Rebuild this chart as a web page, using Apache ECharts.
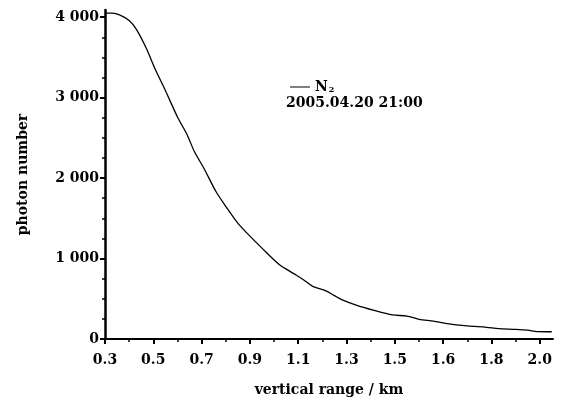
<!DOCTYPE html>
<html>
<head>
<meta charset="utf-8">
<script src="https://cdn.jsdelivr.net/npm/echarts@6/dist/echarts.min.js"></script>
<style>
  html, body { margin: 0; padding: 0; background: #fff; }
  #chart { width: 564px; height: 404px; }
</style>
</head>
<body>
<div id="chart"></div>
<script>
// 数据
const rangeKm = [0.30, 0.33, 0.36, 0.40, 0.43, 0.47, 0.51, 0.55, 0.60, 0.64, 0.67, 0.71, 0.76, 0.80,
  0.85, 0.89, 0.95, 1.02, 1.08, 1.12, 1.16, 1.21, 1.25, 1.28, 1.34, 1.41, 1.49, 1.55, 1.60,
  1.66, 1.71, 1.80, 1.88, 1.93, 2.00, 2.05, 2.09, 2.15]
const photonN2 = [4050, 4050, 4030, 3960, 3850, 3620, 3340, 3090, 2760, 2540, 2330, 2120, 1830, 1650,
  1440, 1310, 1130, 930, 816, 740, 655, 605, 540, 490, 422, 360, 300, 285, 245,
  222, 195, 163, 145, 128, 120, 110, 92, 90]
// 刻度（原图标注照抄）
const xTickKm = [0.3, 0.5, 0.7, 0.9, 1.1, 1.3, 1.5, 1.7, 1.9, 2.1]
const xTickLabels = ['0.3', '0.5', '0.7', '0.9', '1.1', '1.3', '1.5', '1.6', '1.8', '2.0']
const yTickValues = [0, 1000, 2000, 3000, 4000]
const yTickLabels = ['0', '1 000', '2 000', '3 000', '4 000']

const font = 'DejaVu Serif'
const chart = echarts.init(document.getElementById('chart'))

const option = {
  animation: false,
  backgroundColor: '#fff',
  title: {
    text: '2005.04.20 21:00',
    left: 286,
    top: 96,
    padding: 0,
    textStyle: { fontFamily: font, fontWeight: 'bold', fontSize: 14, color: '#000' }
  },
  legend: {
    left: 290,
    top: 80,
    padding: 0,
    itemWidth: 20,
    itemHeight: 1,
    icon: 'rect',
    formatter: function(name) {
      return '{n|N}{s|2}'
    },
    textStyle: {
      color: '#000',
      rich: {
        n: { fontFamily: font, fontWeight: 'bold', fontSize: 14, color: '#000' },
        s: { fontFamily: font, fontWeight: 'bold', fontSize: 8, color: '#000', padding: [6, 0, 0, 1] }
      }
    }
  },
  grid: { left: 105, right: 11, top: 10, bottom: 65 },
  xAxis: {
    type: 'value',
    min: 0.3,
    max: 2.155,
    interval: 0.2,
    name: 'vertical range / km',
    nameLocation: 'middle',
    nameGap: 44,
    nameTextStyle: { fontFamily: font, fontWeight: 'bold', fontSize: 14, color: '#000' },
    splitLine: { show: false },
    axisLine: { lineStyle: { color: '#000', width: 2 } },
    axisTick: {
      customValues: xTickKm,
      length: 5,
      lineStyle: { color: '#000', width: 2 }
    },
    minorTick: { show: true, splitNumber: 2, length: 3, lineStyle: { color: '#000', width: 1.5 } },
    axisLabel: {
      showMaxLabel: false,
      margin: 14,
      fontFamily: font,
      fontWeight: 'bold',
      fontSize: 14,
      color: '#000',
      formatter: function(v) {
        const i = Math.round((v - xTickKm[0]) / 0.2)
        if (i < 0 || i >= xTickKm.length || Math.abs(v - xTickKm[i]) > 0.01) return ''
        return xTickLabels[i]
      }
    }
  },
  yAxis: {
    type: 'value',
    min: 0,
    max: 4090,
    interval: 1000,
    name: 'photon number',
    nameLocation: 'middle',
    nameGap: 75,
    nameTextStyle: { fontFamily: font, fontWeight: 'bold', fontSize: 14, color: '#000' },
    splitLine: { show: false },
    axisLine: { show: true, lineStyle: { color: '#000', width: 2.5 } },
    axisTick: {
      show: true,
      customValues: yTickValues,
      length: 5,
      lineStyle: { color: '#000', width: 2 }
    },
    minorTick: { show: true, splitNumber: 4, length: 3, lineStyle: { color: '#000', width: 1.5 } },
    axisLabel: {
      showMaxLabel: false,
      margin: 6,
      fontFamily: font,
      fontWeight: 'bold',
      fontSize: 14,
      color: '#000',
      formatter: function(v) {
        const i = yTickValues.indexOf(Math.round(v))
        return i < 0 ? '' : yTickLabels[i]
      }
    }
  },
  series: [
    {
      name: 'N2',
      type: 'line',
      data: rangeKm.map((x, i) => [x, photonN2[i]]),
      smooth: 0.3,
      showSymbol: false,
      clip: false,
      lineStyle: { color: '#000', width: 1.3 },
      itemStyle: { color: '#000' }
    }
  ]
}
chart.setOption(option)
</script>
</body>
</html>
